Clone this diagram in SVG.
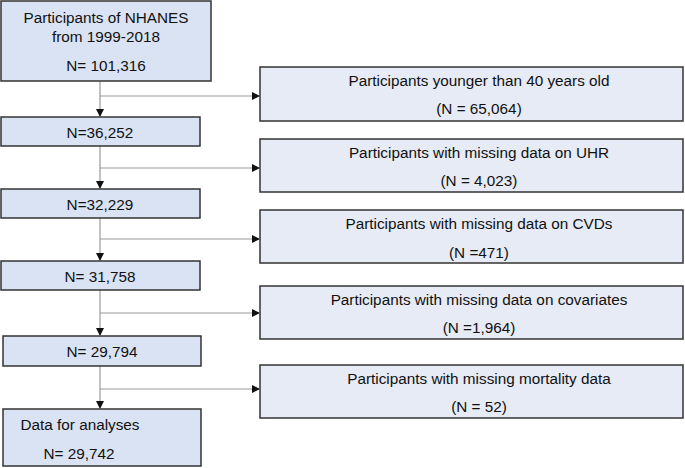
<svg xmlns="http://www.w3.org/2000/svg" width="685" height="468" viewBox="0 0 685 468">
<style>
.b{fill:#dae3f3;stroke:#333;stroke-width:1.5}
.r{fill:#e6ebf5;stroke:#333;stroke-width:1.5}
text{font-family:"Liberation Sans",Arial,sans-serif;font-size:15.3px;fill:#111;text-anchor:middle}
.c line{stroke:#999;stroke-width:1.2}
</style>
<defs><marker id="a" markerWidth="8" markerHeight="8" refX="7" refY="4" orient="auto" markerUnits="userSpaceOnUse"><path d="M0,0L8,4L0,8z" fill="#111"/></marker></defs>
<rect width="685" height="468" fill="#fff"/>
<g class="c">
<line x1="100" y1="81" x2="100" y2="116" marker-end="url(#a)"/>
<line x1="100" y1="96" x2="259" y2="96" marker-end="url(#a)"/>
<line x1="100" y1="146" x2="100" y2="188" marker-end="url(#a)"/>
<line x1="100" y1="168" x2="259" y2="168" marker-end="url(#a)"/>
<line x1="100" y1="218" x2="100" y2="260" marker-end="url(#a)"/>
<line x1="100" y1="239" x2="259" y2="239" marker-end="url(#a)"/>
<line x1="100" y1="290" x2="100" y2="335" marker-end="url(#a)"/>
<line x1="100" y1="313" x2="259" y2="313" marker-end="url(#a)"/>
<line x1="100" y1="366" x2="100" y2="408" marker-end="url(#a)"/>
<line x1="100" y1="389" x2="259" y2="389" marker-end="url(#a)"/>
</g>
<g id="n1"><rect class="b" x="1" y="1" width="210" height="80"/><text x="106" y="23">Participants of NHANES</text><text x="106" y="42">from 1999-2018</text><text x="106" y="71">N= 101,316</text></g>
<g id="n2"><rect class="b" x="1" y="117" width="199" height="29"/><text x="100" y="138">N=36,252</text></g>
<g id="n3"><rect class="b" x="1" y="189" width="199" height="29"/><text x="100" y="210">N=32,229</text></g>
<g id="n4"><rect class="b" x="1" y="261" width="199" height="29"/><text x="100" y="282">N= 31,758</text></g>
<g id="n5"><rect class="b" x="3" y="336" width="198" height="30"/><text x="102" y="357">N= 29,794</text></g>
<g id="n6"><rect class="b" x="3" y="409" width="198" height="57"/><text x="80" y="430">Data for analyses</text><text x="79" y="459">N= 29,742</text></g>
<g id="r1"><rect class="r" x="260" y="67" width="423" height="54"/><text x="479" y="86">Participants younger than 40 years old</text><text x="479" y="114">(N = 65,064)</text></g>
<g id="r2"><rect class="r" x="260" y="139" width="423" height="53"/><text x="479" y="158">Participants with missing data on UHR</text><text x="479" y="186">(N = 4,023)</text></g>
<g id="r3"><rect class="r" x="260" y="210" width="423" height="53"/><text x="479" y="229">Participants with missing data on CVDs</text><text x="479" y="258">(N =471)</text></g>
<g id="r4"><rect class="r" x="260" y="286" width="423" height="53"/><text x="479" y="305">Participants with missing data on covariates</text><text x="479" y="333">(N =1,964)</text></g>
<g id="r5"><rect class="r" x="260" y="365" width="423" height="53"/><text x="479" y="384">Participants with missing mortality data</text><text x="479" y="412">(N = 52)</text></g>
</svg>
